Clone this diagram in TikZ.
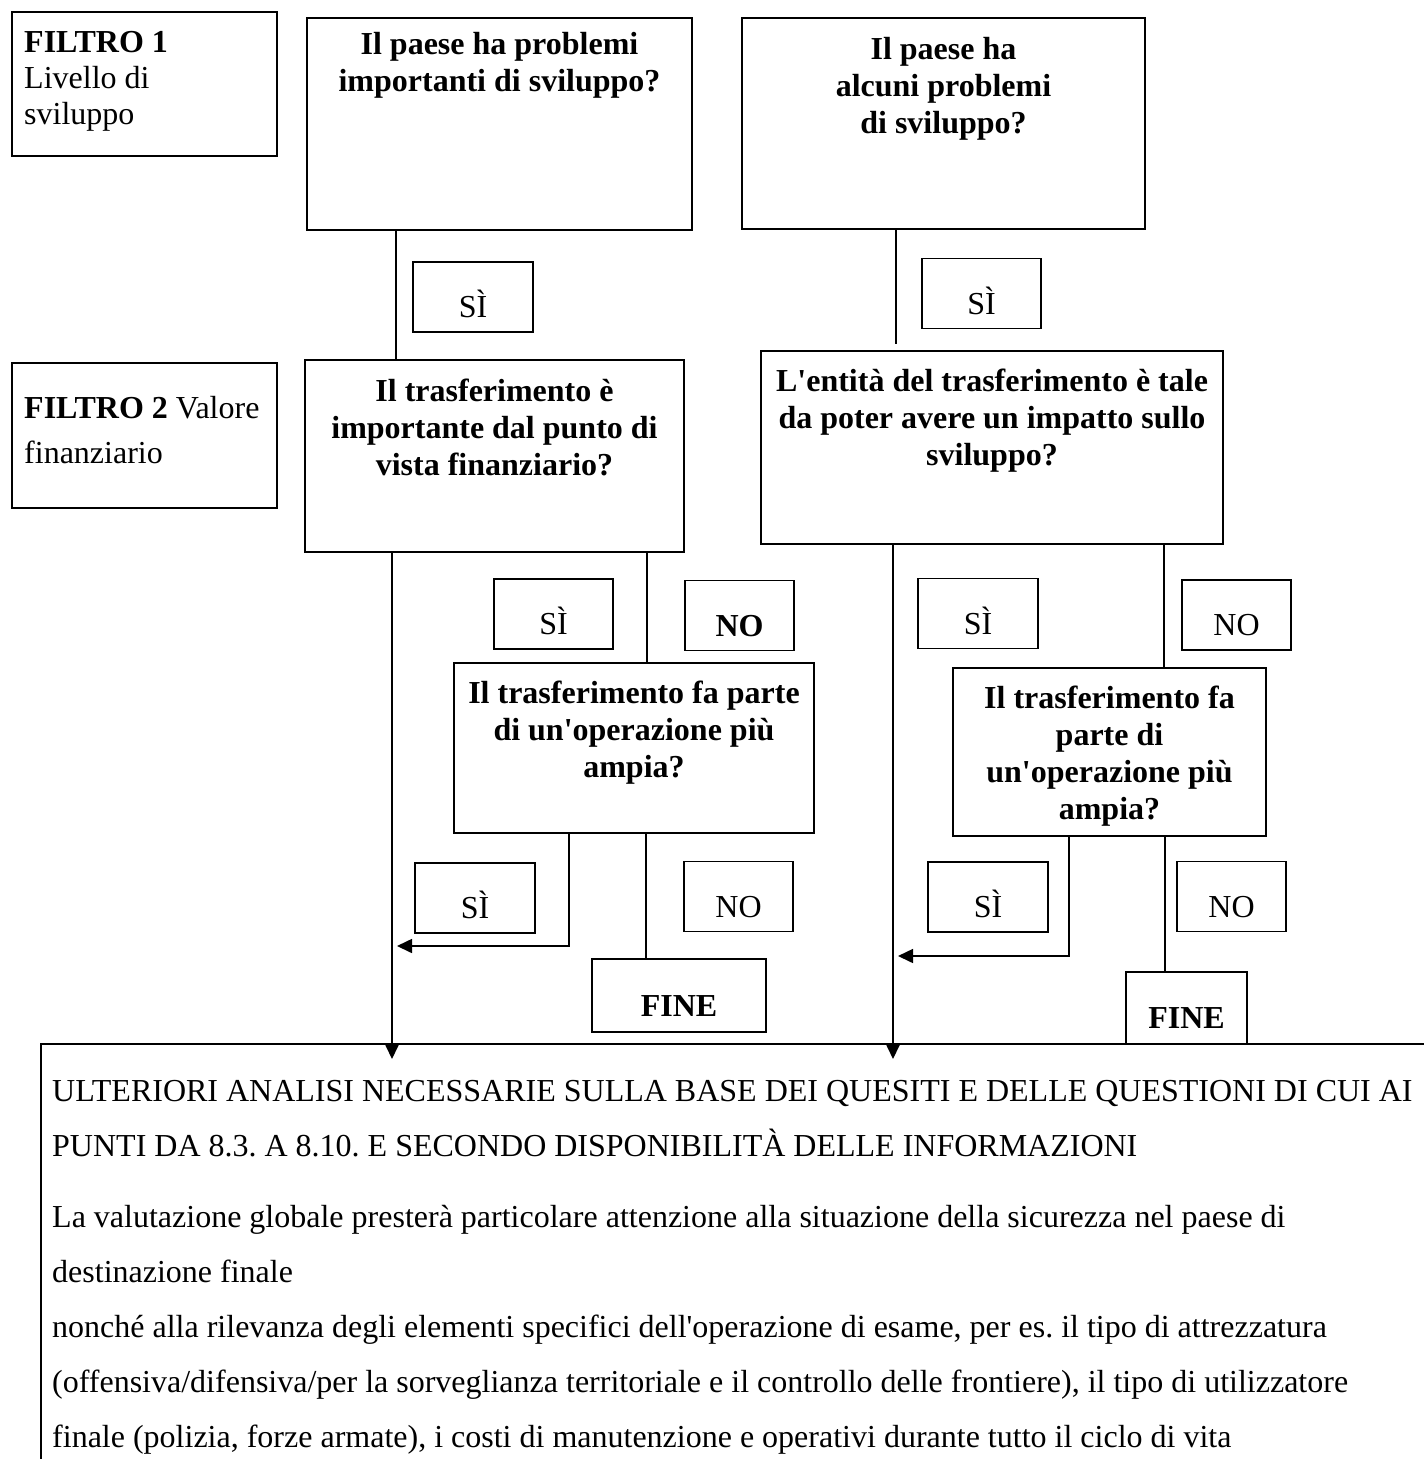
\documentclass[tikz,border=0pt]{standalone}
\usepackage{fontspec}
\setmainfont{Liberation Serif}[Ligatures=CommonOff]
\usetikzlibrary{positioning,arrows.meta}
\newcommand{\ap}{\textquotesingle}

\begin{document}
\frenchspacing
\begin{tikzpicture}[
    x=1pt, y=-1pt,
    box/.style={
        draw,
        line width=1.6pt,
        inner sep=0pt,
        outer sep=0pt
    },
    qtext/.style={font=\bfseries\fontsize{32}{37}\selectfont, align=center, inner sep=0pt},
    ftext/.style={font=\fontsize{32}{36}\selectfont, align=left, inner sep=0pt},
    ansbox/.style={box, font=\fontsize{32}{37}\selectfont, minimum height=70pt,
        text height=41pt, text depth=0pt},
    link/.style={line width=1.6pt},
    arrow/.style={link, -{Triangle[length=15pt, width=14pt]}}
]
\useasboundingbox (0,0) rectangle (1424,1459);

% filtri
\node[box, minimum width=265pt, minimum height=144pt] (f1) at (144.5,84) {};
\node[ftext, below right=14.8pt and 12pt of f1.north west] (f1t)
    {\strut\textbf{FILTRO 1}\\Livello di\\sviluppo};
\node[box, minimum width=265pt, minimum height=145pt] (f2) at (144.5,435.5) {};
\node[ftext, below right=29.8pt and 12pt of f2.north west] (f2t)
    {\strut\textbf{FILTRO 2} Valore\\[9pt]finanziario};

% domande
\node[box, minimum width=385pt, minimum height=212pt] (q1) at (499.5,124) {};
\node[qtext, below=10pt of q1.north] (q1t) {\strut Il paese ha problemi\\importanti di sviluppo?};
\node[box, minimum width=403pt, minimum height=211pt] (q3) at (943.5,123.5) {};
\node[qtext, below=15pt of q3.north] (q3t) {\strut Il paese ha\\alcuni problemi\\di sviluppo?};
\node[box, minimum width=379pt, minimum height=192pt] (q2) at (494.5,456) {};
\node[qtext, below=15pt of q2.north] (q2t)
    {\strut Il trasferimento è\\importante dal punto di\\vista finanziario?};
\node[box, minimum width=462pt, minimum height=193pt] (q4) at (992,447.5) {};
\node[qtext, below=14pt of q4.north] (q4t)
    {\strut L\ap entità del trasferimento è tale\\da poter avere un impatto sullo\\sviluppo?};
\node[box, minimum width=360pt, minimum height=170pt] (q5) at (634,748) {};
\node[qtext, below=14pt of q5.north] (q5t)
    {\strut Il trasferimento fa parte\\di un\ap operazione più\\ampia?};
\node[box, minimum width=313pt, minimum height=168pt] (q6) at (1109.5,752) {};
\node[qtext, below=14pt of q6.north] (q6t)
    {\strut Il trasferimento fa\\parte di\\un\ap operazione più\\ampia?};

% risposte
\node[ansbox, minimum width=120pt] (s1) at (473,297) {SÌ};
\node[ansbox, minimum width=119pt] (s2) at (981.5,293.5) {SÌ};
\node[ansbox, minimum width=119pt] (s3) at (553.5,614) {SÌ};
\node[ansbox, minimum width=109pt, font=\bfseries\fontsize{32}{37}\selectfont] (n1) at (739.5,615.5) {NO};
\node[ansbox, minimum width=120pt] (s4) at (475,898) {SÌ};
\node[ansbox, minimum width=109pt] (n2) at (738.5,896.5) {NO};
\node[ansbox, minimum width=120pt] (s5) at (978,613.5) {SÌ};
\node[ansbox, minimum width=109pt] (n3) at (1236.5,615) {NO};
\node[ansbox, minimum width=120pt] (s6) at (988,897) {SÌ};
\node[ansbox, minimum width=109pt] (n4) at (1231.5,896.5) {NO};
\node[ansbox, minimum width=174pt, minimum height=73pt, font=\bfseries\fontsize{32}{37}\selectfont] (fine1) at (679,995.5) {FINE};
\node[ansbox, minimum width=121pt, minimum height=72pt, font=\bfseries\fontsize{32}{37}\selectfont] (fine2) at (1186.5,1008) {FINE};

% analisi finale
\node[anchor=north west, align=left, inner sep=0pt, font=\fontsize{32}{55}\selectfont] (final) at (52,1062.5)
    {\strut ULTERIORI ANALISI NECESSARIE SULLA BASE DEI QUESITI E DELLE QUESTIONI DI CUI AI\\
     PUNTI DA 8.3. A 8.10. E SECONDO DISPONIBILITÀ DELLE INFORMAZIONI\\[16pt]
     La valutazione globale presterà particolare attenzione alla situazione della sicurezza nel paese di\\
     destinazione finale\\
     nonché alla rilevanza degli elementi specifici dell\ap operazione di esame, per es. il tipo di attrezzatura\\
     (offensiva/difensiva/per la sorveglianza territoriale e il controllo delle frontiere), il tipo di utilizzatore\\
     finale (polizia, forze armate), i costi di manutenzione e operativi durante tutto il ciclo di vita};
\draw[link] (1430,1044) -| (41,1465);

\coordinate (in1) at (392,1059);
\coordinate (in2) at (893,1059);
\coordinate (back1) at (397,946);
\coordinate (back2) at (898,956);

\draw[link] ([xshift=-103.5pt]q1.south) -- ([xshift=-98.5pt]q2.north);
\draw[link, shorten >=7pt] ([xshift=-47.5pt]q3.south) -- ([xshift=-96pt]q4.north);
\draw[arrow] ([xshift=-102.5pt]q2.south) -- (in1);
\draw[link] ([xshift=152.5pt]q2.south) -- ([xshift=13pt]q5.north);
\draw[arrow] ([xshift=-99pt]q4.south) -- (in2);
\draw[link] ([xshift=172pt]q4.south) -- ([xshift=54.5pt]q6.north);
\draw[arrow] ([xshift=-65pt]q5.south) |- (back1);
\draw[link] ([xshift=12pt]q5.south) -- ([xshift=-33pt]fine1.north);
\draw[arrow] ([xshift=-40.5pt]q6.south) |- (back2);
\draw[link] ([xshift=55.5pt]q6.south) -- ([xshift=-21.5pt]fine2.north);

\end{tikzpicture}
\end{document}
